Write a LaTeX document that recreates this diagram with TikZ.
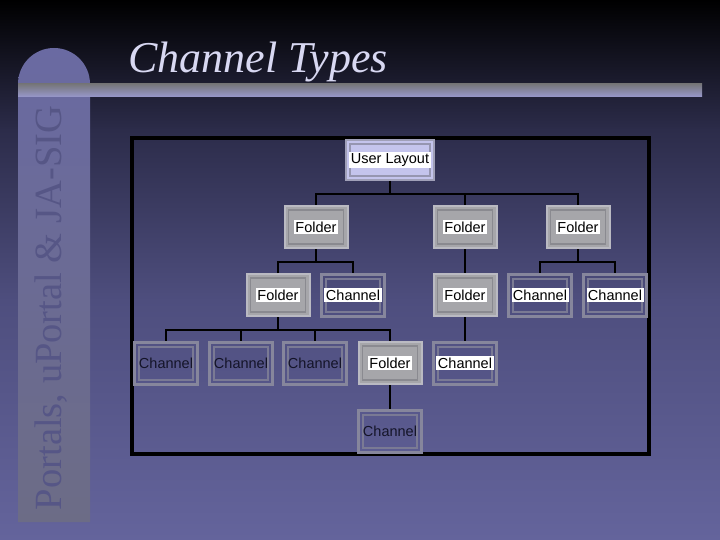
\documentclass[tikz,border=0pt]{standalone}
\usepackage{fontspec}
\setmainfont{Liberation Serif}
\setsansfont{Liberation Sans}
\definecolor{bga}{RGB}{0,0,0}
\definecolor{bgb}{RGB}{44,44,74}
\definecolor{bgc}{RGB}{78,78,126}
\definecolor{bgd}{RGB}{100,100,156}
\definecolor{pillartop}{RGB}{106,106,162}
\definecolor{pillarbot}{RGB}{108,108,134}
\definecolor{bartop}{RGB}{118,118,122}
\definecolor{barbot}{RGB}{152,152,204}
\definecolor{sidetext}{RGB}{86,86,134}
\definecolor{titlecol}{RGB}{216,216,242}
\definecolor{foldout}{RGB}{186,186,194}
\definecolor{folderfill}{RGB}{166,166,170}
\definecolor{folderin}{RGB}{138,138,144}
\definecolor{chanout}{RGB}{134,134,156}
\definecolor{chanin}{RGB}{122,122,148}
\definecolor{ulout}{RGB}{160,160,184}
\definecolor{ulfill}{RGB}{196,196,236}
\definecolor{ulin}{RGB}{150,150,176}
\definecolor{chantext}{RGB}{20,20,40}
\newcommand\wt[1]{{\setlength{\fboxsep}{1.5pt}\colorbox{white}{\textcolor{black}{#1}}}}
\tikzset{
  box/.style={rectangle, minimum width=63pt, minimum height=42pt, inner sep=0pt,
    line width=2pt, font=\sffamily\fontsize{14.5}{17}\selectfont},
  inset/.style={path picture={\draw[line width=1.5pt, draw=#1]
    ([shift={(4pt,4pt)}]path picture bounding box.south west) rectangle
    ([shift={(-4pt,-4pt)}]path picture bounding box.north east);}},
  chaninset/.style={path picture={\draw[line width=2pt, draw=#1]
    ([shift={(4.5pt,4.5pt)}]path picture bounding box.south west) rectangle
    ([shift={(-4.5pt,-4.5pt)}]path picture bounding box.north east);}},
  folderbox/.style={box, draw=foldout, fill=folderfill, inset=folderin},
  chanbox/.style={box, line width=3pt, draw=chanout, chaninset=chanin, text=chantext},
  ulbox/.style={box, minimum width=88pt, minimum height=40pt, draw=ulout, fill=ulfill, inset=ulin},
  conn/.style={draw=black, line width=1.1pt}
}
\begin{document}
\begin{tikzpicture}[x=1pt,y=-1pt]
\useasboundingbox (0,0) rectangle (720,540);
% background
\shade[top color=bga, bottom color=bgb] (0,0) rectangle (720,130.5);
\shade[top color=bgb, bottom color=bgc] (0,130) rectangle (720,300.5);
\shade[top color=bgc, bottom color=bgd] (0,300) rectangle (720,540);
% pillar
\shade[top color=pillartop, bottom color=pillarbot]
  (18,522) -- (18,84) arc[start angle=180, end angle=360, radius=36] -- (90,522) -- cycle;
% bar
\shade[top color=bartop, bottom color=barbot] (18,84) rectangle (702,97);
% side text
\node[rotate=90, text=sidetext, font=\fontsize{38.5}{42}\selectfont, inner sep=0pt] (side) at (51,308) {Portals, uPortal \& JA-SIG};
% title
\node[anchor=base west, text=titlecol, font=\itshape\fontsize{44}{48}\selectfont, inner sep=0pt] (title) at (128,73) {Channel Types};
% panel
\draw[line width=4pt, draw=black] (132,138) rectangle (649,454);
% nodes
\node[ulbox] (ul) at (390,160) {\wt{User Layout}};
\node[folderbox] (f1) at (316,227) {\wt{Folder}};
\node[folderbox] (f2) at (465,227) {\wt{Folder}};
\node[folderbox] (f3) at (578,227) {\wt{Folder}};
\node[folderbox] (f11) at (278,295) {\wt{Folder}};
\node[chanbox] (c12) at (353,295) {\wt{Channel}};
\node[folderbox] (f21) at (465,295) {\wt{Folder}};
\node[chanbox] (c31) at (540,295) {\wt{Channel}};
\node[chanbox] (c32) at (615,295) {\wt{Channel}};
\node[chanbox] (c111) at (166,363) {Channel};
\node[chanbox] (c112) at (241,363) {Channel};
\node[chanbox] (c113) at (315,363) {Channel};
\node[folderbox] (f114) at (390,363) {\wt{Folder}};
\node[chanbox] (c211) at (465,363) {\wt{Channel}};
\node[chanbox] (c1141) at (390,431) {Channel};
% connectors
\coordinate (j0) at ([yshift=-13pt]ul.south);
\draw[conn] (ul.south) -- (j0);
\draw[conn] (f1.north) |- (j0) -| (f3.north);
\draw[conn] (f2.north) -- (f2.north |- j0);
\coordinate (j1) at ([yshift=-13pt]f1.south);
\draw[conn] (f1.south) -- (j1);
\draw[conn] (f11.north) |- (j1) -| (c12.north);
\draw[conn] (f2.south) -- (f21.north);
\coordinate (j3) at ([yshift=-13pt]f3.south);
\draw[conn] (f3.south) -- (j3);
\draw[conn] (c31.north) |- (j3) -| (c32.north);
\coordinate (j11) at ([yshift=-13pt]f11.south);
\draw[conn] (f11.south) -- (j11);
\draw[conn] (c111.north) |- (j11) -| (f114.north);
\draw[conn] (c112.north) -- (c112.north |- j11);
\draw[conn] (c113.north) -- (c113.north |- j11);
\draw[conn] (f21.south) -- (c211.north);
\draw[conn] (f114.south) -- (c1141.north);
\end{tikzpicture}
\end{document}
